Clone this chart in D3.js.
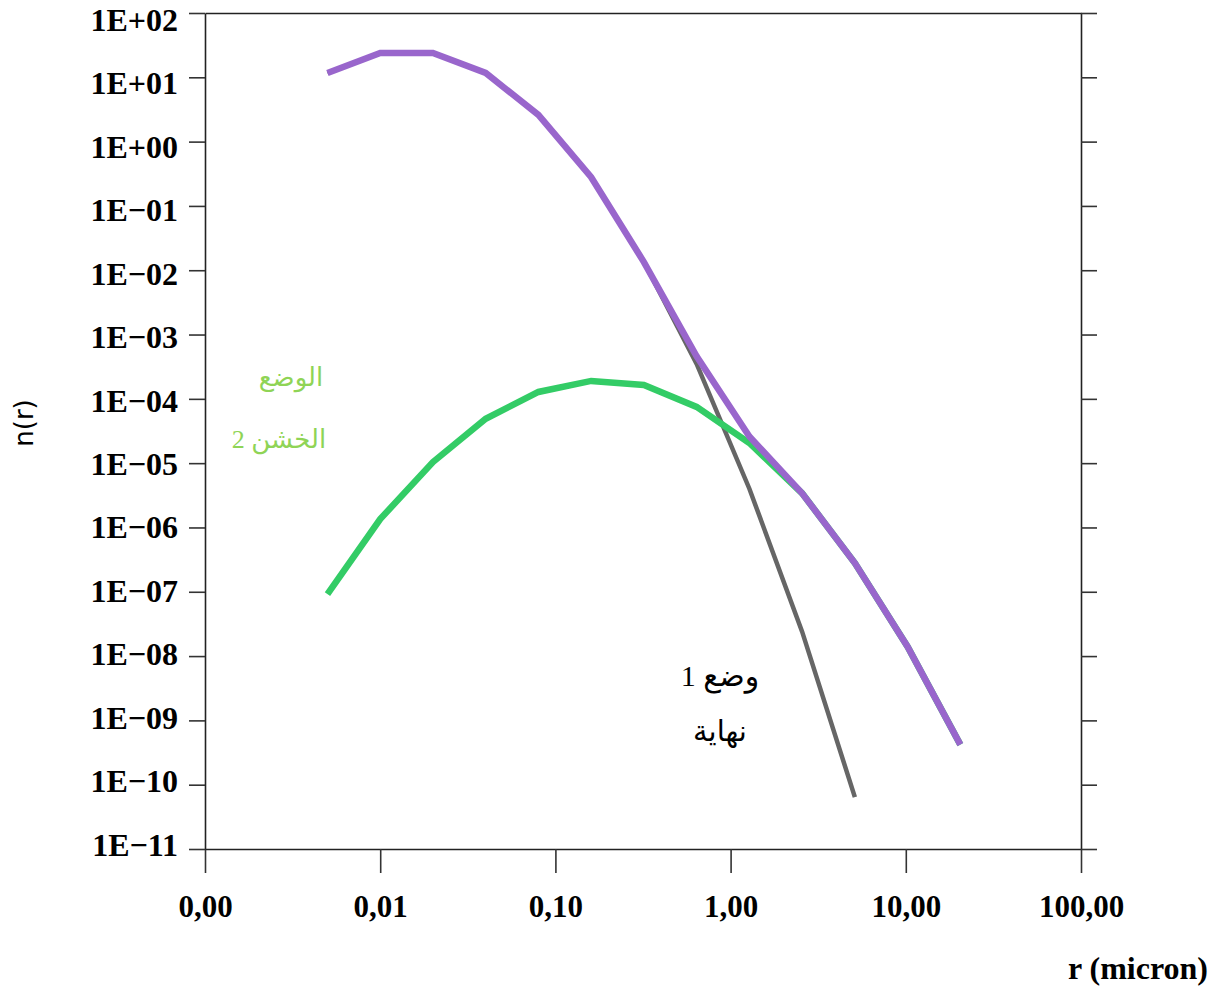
<!DOCTYPE html>
<html>
<head>
<meta charset="utf-8">
<script src="https://cdn.jsdelivr.net/npm/d3@7"></script>
<style>
  html, body { margin: 0; padding: 0; background: #fff; }
  svg { display: block; }
</style>
</head>
<body>
<svg id="chart" width="1216" height="990"></svg>
<script>
// ---- data ----
const radius = [0.005, 0.01, 0.02, 0.04, 0.08, 0.16, 0.32, 0.64, 1.28, 2.56, 5.12, 10.24, 20.48];
const totalN = [11.7, 23.9, 23.9, 11.7, 2.6, 0.28, 0.0134, 4.6e-4, 2.6e-5, 3.4e-6, 2.8e-7, 1.4e-8, 4.2e-10];
const mode1N = [11.7, 23.9, 23.9, 11.7, 2.6, 0.28, 0.0134, 3.5e-4, 4.0e-6, 2.4e-8, 6.4e-11];
const mode2N = [9.2e-8, 1.35e-6, 1.04e-5, 4.9e-5, 1.28e-4, 1.9e-4, 1.64e-4, 7.5e-5, 2.06e-5, 3.4e-6, 2.8e-7, 1.4e-8, 4.2e-10];
const xTicks = [0.001, 0.01, 0.1, 1, 10, 100];
const yTicks = [1e-11, 1e-10, 1e-9, 1e-8, 1e-7, 1e-6, 1e-5, 1e-4, 1e-3, 1e-2, 1e-1, 1, 10, 100];
const yTickLabels = ["1E\u221211", "1E\u221210", "1E\u221209", "1E\u221208", "1E\u221207", "1E\u221206", "1E\u221205",
                     "1E\u221204", "1E\u221203", "1E\u221202", "1E\u221201", "1E+00", "1E+01", "1E+02"];
const xTitle = "r (micron)";
const yTitle = "n(r)";
const mode2Label = ["الوضع", "الخشن 2"];
const mode1Label = ["وضع 1", "نهاية"];

// ---- layout ----
const svg = d3.select("#chart");
const L = 205, R = 1081, T = 13, B = 849;
const x = d3.scaleLog().domain([0.001, 100]).range([L, R]);
const y = d3.scaleLog().domain([1e-11, 100]).range([B, T]);

const serif = "'Liberation Serif', 'Times New Roman', 'DejaVu Sans', serif";

// lines
const line = d3.line().x(d => x(d[0])).y(d => y(d[1]));
const series = [
  { vals: mode1N, color: "#666666", width: 4.5 },
  { vals: mode2N, color: "#33cc66", width: 6.5 },
  { vals: totalN, color: "#9966cc", width: 6.5 }
];
series.forEach(s => {
  svg.append("path")
    .datum(s.vals.map((v, i) => [radius[i], v]))
    .attr("fill", "none")
    .attr("stroke", s.color)
    .attr("stroke-width", s.width)
    .attr("stroke-linejoin", "miter")
    .attr("d", line);
});

// axes
const fmtX = d => d3.format(".2f")(d).replace(".", ",");
const gx = svg.append("g").attr("transform", `translate(0,${B})`)
  .call(d3.axisBottom(x).tickValues(xTicks).tickFormat(fmtX).tickSize(24).tickSizeOuter(0).tickPadding(22));
const gTop = svg.append("g").attr("transform", `translate(0,${T})`)
  .call(d3.axisTop(x).tickValues([]).tickSizeOuter(0));
const gl = svg.append("g").attr("transform", `translate(${L},0)`)
  .call(d3.axisLeft(y).tickValues(yTicks).tickFormat((d, i) => yTickLabels[i]).tickSize(16).tickSizeOuter(0).tickPadding(11));
const gr = svg.append("g").attr("transform", `translate(${R},0)`)
  .call(d3.axisRight(y).tickValues(yTicks).tickFormat("").tickSize(16).tickSizeOuter(0));

[gx, gTop, gl, gr].forEach(g => {
  g.selectAll(".domain").attr("stroke", "#222").attr("stroke-width", 1.6);
  g.selectAll(".tick line").attr("stroke", "#333").attr("stroke-width", 1.6);
});
gx.selectAll(".tick text")
  .attr("font-family", serif).attr("font-weight", "bold").attr("font-size", 31).attr("fill", "#000");
gl.selectAll(".tick text")
  .attr("font-family", serif).attr("font-weight", "bold").attr("font-size", 32).attr("fill", "#000")
  .attr("y", (d, i) => -4 + 11 * i / 13);

// axis titles
svg.append("text")
  .attr("x", 1208).attr("y", 979)
  .attr("text-anchor", "end")
  .attr("font-family", serif).attr("font-weight", "bold").attr("font-size", 32)
  .text(xTitle);
svg.append("text")
  .attr("transform", "translate(33,423) rotate(-90)")
  .attr("text-anchor", "middle")
  .attr("font-family", "'DejaVu Sans', sans-serif").attr("font-size", 26)
  .text(yTitle);

// annotations
svg.append("text").attr("x", 291).attr("y", 386).attr("text-anchor", "middle")
  .attr("direction", "rtl").attr("font-family", serif).attr("font-size", 26).attr("fill", "#8fd456")
  .text(mode2Label[0]);
svg.append("text").attr("x", 279).attr("y", 448).attr("text-anchor", "middle")
  .attr("direction", "rtl").attr("font-family", serif).attr("font-size", 26).attr("fill", "#8fd456")
  .text(mode2Label[1]);
svg.append("text").attr("x", 720).attr("y", 686).attr("text-anchor", "middle")
  .attr("direction", "rtl").attr("font-family", serif).attr("font-size", 30).attr("fill", "#000")
  .text(mode1Label[0]);
svg.append("text").attr("x", 720).attr("y", 741).attr("text-anchor", "middle")
  .attr("direction", "rtl").attr("font-family", serif).attr("font-size", 29).attr("fill", "#000")
  .text(mode1Label[1]);
</script>
</body>
</html>
